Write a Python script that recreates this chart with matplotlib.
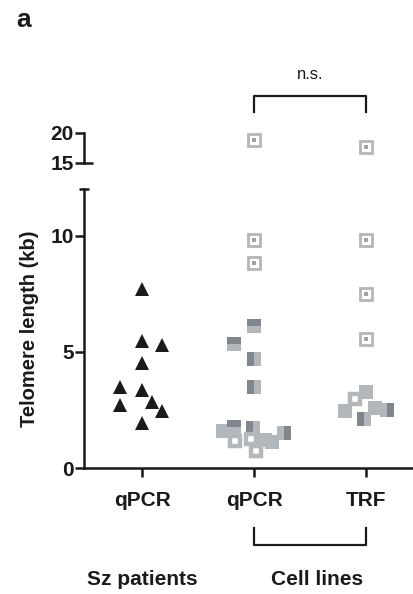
import matplotlib
matplotlib.use("Agg")
import matplotlib.pyplot as plt
from matplotlib.transforms import blended_transform_factory
import numpy as np

plt.rcParams['font.family'] = ['Liberation Sans', 'DejaVu Sans']

groups = ['qPCR', 'qPCR', 'TRF']

# Sz patients, qPCR (triangles)
sz_vals = [7.7, 5.45, 5.3, 4.5, 3.5, 3.35, 2.85, 2.7, 2.45, 1.95]
sz_jit = [0, 0, 0.18, 0, -0.2, 0, 0.09, -0.2, 0.18, 0]

# cell lines, qPCR
cq_vals = [18.8, 9.8, 8.8, 6.1, 5.35, 4.7, 3.5, 1.6, 1.75, 1.15, 1.7, 1.25, 0.75, 1.2, 1.1, 1.5]
cq_jit = [0, 0, 0, 0, -0.18, 0, 0, -0.28, -0.18, -0.17, -0.01, -0.03, 0.02, 0.1, 0.16, 0.27]
cq_kind = ['dot', 'dot', 'dot', 'top', 'top', 'left', 'left', 'filled', 'top',
           'hollow', 'left', 'hollow', 'hollow', 'filled', 'filled', 'right']

# cell lines, TRF
trf_vals = [17.7, 9.8, 7.5, 5.55, 2.45, 2.95, 3.25, 2.1, 2.6, 2.5]
trf_jit = [0, 0, 0, 0, -0.19, -0.1, 0, -0.02, 0.08, 0.19]
trf_kind = ['dot', 'dot', 'dot', 'dot', 'filled', 'hollow', 'filled', 'left', 'filled', 'right']

light = '#b2b7bc'
dark = '#80868c'
ink = '#1a1a1a'


def draw_squares(ax, x0, vals, jit, kinds):
    for v, j, k in zip(vals, jit, kinds):
        x = x0 + j
        if k == 'filled':
            ax.plot(x, v, 's', ms=10, mew=0, color=light)
        elif k == 'hollow':
            ax.plot(x, v, 's', ms=6.8, mew=3.2, mfc='white', mec=light)
        elif k == 'dot':
            ax.plot(x, v, 's', ms=8.2, mew=2.0, mfc='white', mec=light)
            ax.plot(x, v, 's', ms=2.4, mew=0, color='#9ea3a8')
        else:
            ax.plot(x, v, 's', ms=10, mew=0, fillstyle=k,
                    mfc=dark, mfcalt=light)


def draw_all(ax):
    ax.plot(np.array(sz_jit) + 0, sz_vals, '^', ms=9.5, mew=0, color=ink,
            linestyle='none')
    draw_squares(ax, 1, cq_vals, cq_jit, cq_kind)
    draw_squares(ax, 2, trf_vals, trf_jit, trf_kind)


fig = plt.figure(figsize=(4.13, 5.94), dpi=100)
fig.patch.set_facecolor('white')

ax = fig.add_axes([0.2034, 0.2121, 0.7966, 0.4697])
top = fig.add_axes([0.2034, 0.7256, 0.7966, 0.0505])

for a in (ax, top):
    draw_all(a)
    a.set_xlim(-0.52, 2.42)
    a.set_facecolor('none')
    for s in ('top', 'right'):
        a.spines[s].set_visible(False)
    a.spines['left'].set_linewidth(1.8)
    a.spines['left'].set_color(ink)
    a.tick_params(axis='y', length=6.5, width=1.8, color=ink,
                  labelsize=15, labelcolor=ink, pad=1)

ax.set_ylim(0, 12)
ax.set_yticks([0, 5, 10])
ax.set_yticklabels(['0', '5', '10'], fontweight='bold')
ax.spines['bottom'].set_linewidth(1.8)
ax.spines['bottom'].set_color(ink)
ax.set_xticks(range(len(groups)))
ax.set_xticklabels(groups, fontsize=15, fontweight='bold', color=ink)
ax.tick_params(axis='x', length=6.5, width=1.8, color=ink, pad=10)

top.set_ylim(15, 20)
top.set_yticks([15, 20])
top.set_yticklabels(['15', '20'], fontweight='bold')
top.spines['bottom'].set_visible(False)
top.set_xticks([])

# axis break marks
tr = blended_transform_factory(ax.transAxes, ax.transData)
ax.plot([-0.016, 0.016], [12, 12], color=ink, lw=1.8, transform=tr,
        clip_on=False, solid_capstyle='butt')
tr2 = blended_transform_factory(top.transAxes, top.transData)
top.plot([0, 0.026], [15, 15], color=ink, lw=1.8, transform=tr2,
         clip_on=False, solid_capstyle='butt')

ax.set_ylabel('Telomere length (kb)', fontsize=14.5, fontweight='bold',
              color=ink, labelpad=8)

# brackets
trb = blended_transform_factory(ax.transData, ax.transAxes)
ax.plot([1, 1, 2, 2], [1.276, 1.333, 1.333, 1.276], color=ink, lw=1.6,
        transform=trb, clip_on=False)
ax.text(1.5, 1.385, 'n.s.', fontsize=12, ha='center', va='bottom',
        color=ink, transform=trb)
ax.plot([1, 1, 2, 2], [-0.215, -0.276, -0.276, -0.215], color=ink, lw=1.6,
        transform=trb, clip_on=False)

ax.text(0, -0.398, 'Sz patients', fontsize=15, fontweight='bold',
        ha='center', va='center', color=ink, transform=trb)
ax.text(1.56, -0.398, 'Cell lines', fontsize=15, fontweight='bold',
        ha='center', va='center', color=ink, transform=trb)

fig.text(16 / 413, 1 - 27 / 594, 'a', fontsize=19, fontweight='bold',
         color=ink, va='baseline')

fig.savefig('out.png', dpi=100)
